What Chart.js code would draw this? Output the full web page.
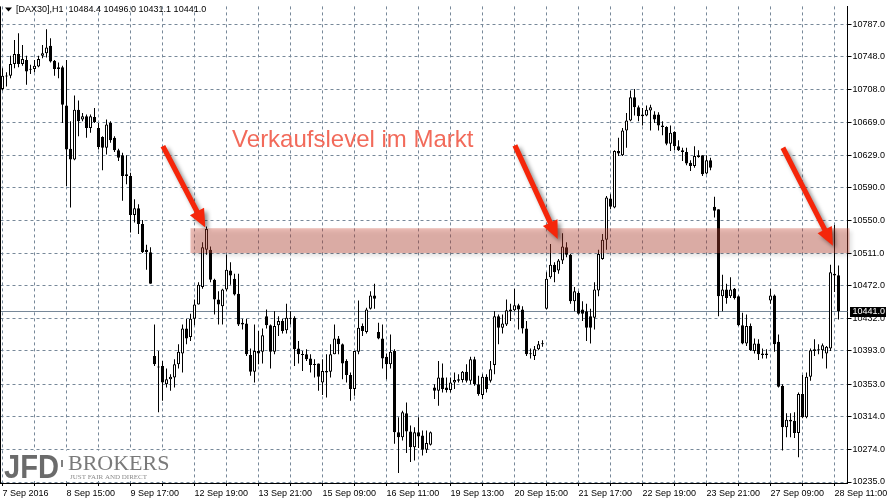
<!DOCTYPE html>
<html><head><meta charset="utf-8">
<script src="https://cdn.jsdelivr.net/npm/chart.js@4"></script>
<style>html,body{margin:0;padding:0;background:#fff;overflow:hidden}canvas{display:block}</style>
</head><body>
<canvas id="c" width="891" height="503"></canvas>
<script>
// ---- x tick labels (one every 16 hourly bars) ----
const xTickLabels = ['7 Sep 2016','8 Sep 15:00','9 Sep 17:00','12 Sep 19:00','13 Sep 21:00','15 Sep 09:00','16 Sep 11:00','19 Sep 13:00','20 Sep 15:00','21 Sep 17:00','22 Sep 19:00','23 Sep 21:00','27 Sep 09:00','28 Sep 11:00'];
// ---- y tick labels ----
const yTickValues = [10787,10748,10708,10669,10629,10590,10550,10511,10472,10432,10393,10353,10314,10274,10235];
const yMin = 10233.8, yMax = 10808.5;

// ---- DAX30 H1 OHLC ----
const open = [
10709,10724,10725,10739,10751,10739,10744,10732,10733,10736,
10749,10752,10761,10743,10733,10735,10689,10637,10624,10684,
10672,10676,10662,10675,10662,10651,10638,10668,10650,10635,
10629,10606,10604,10557,10565,10546,10515,10512,10387,10374,
10375,10353,10359,10361,10377,10390,10420,10410,10432,10449,
10470,10515,10515,10479,10455,10447,10467,10490,10480,10462,
10425,10426,10388,10368,10393,10392,10435,10424,10392,10424,
10429,10418,10433,10433,10396,10389,10389,10384,10377,10378,
10355,10369,10368,10389,10408,10401,10381,10364,10347,10392,
10423,10416,10444,10460,10416,10408,10386,10377,10393,10295,
10289,10318,10296,10277,10295,10291,10274,10280,10349,10345,
10361,10349,10346,10355,10359,10358,10368,10357,10383,10353,
10340,10362,10357,10376,10435,10421,10425,10441,10442,10448,
10443,10420,10390,10387,10395,10401,10444,10482,10497,10490,
10502,10518,10509,10453,10463,10443,10441,10435,10433,10466,
10504,10527,10577,10566,10634,10629,10659,10671,10699,10687,
10678,10677,10683,10678,10678,10665,10663,10643,10657,10640,
10635,10633,10620,10616,10629,10629,10607,10623,10567,10564,
10459,10467,10459,10468,10459,10424,10402,10423,10393,10402,
10390,10390,10454,10460,10404,10351,10301,10310,10309,10294,
10341,10313,10362,10393,10395,10394,10390,10396,10486,10484.4];
const high = [
10734,10729,10749,10768,10776,10762,10749,10738,10744,10749,
10762,10781,10770,10744,10741,10737,10744,10670,10701,10695,
10680,10678,10678,10686,10668,10652,10672,10670,10652,10637,
10632,10629,10608,10576,10570,10551,10521,10518,10425,10393,
10381,10372,10365,10383,10401,10425,10432,10438,10455,10476,
10524,10543,10519,10480,10465,10468,10509,10500,10486,10486,
10432,10432,10396,10425,10417,10420,10443,10425,10441,10435,
10432,10450,10441,10435,10405,10393,10395,10389,10383,10378,
10383,10389,10401,10425,10411,10402,10383,10367,10393,10454,
10426,10445,10465,10474,10427,10425,10390,10413,10395,10313,
10321,10331,10303,10301,10313,10297,10297,10296,10353,10381,
10378,10361,10361,10367,10365,10369,10377,10386,10386,10363,
10365,10365,10381,10441,10437,10437,10455,10450,10468,10450,
10447,10429,10396,10399,10405,10406,10488,10522,10500,10504,
10535,10524,10510,10470,10465,10453,10450,10444,10476,10515,
10534,10580,10582,10635,10650,10662,10680,10707,10709,10689,
10686,10689,10690,10682,10681,10670,10664,10665,10658,10647,
10638,10638,10623,10640,10635,10629,10629,10626,10579,10564,
10485,10474,10482,10469,10460,10439,10437,10426,10408,10407,
10396,10395,10468,10461,10413,10353,10318,10318,10319,10343,
10364,10367,10396,10407,10401,10402,10399,10497,10545,10496.0];
const low = [
10707,10712,10722,10734,10735,10737,10714,10727,10729,10735,
10746,10747,10741,10725,10722,10668,10592,10566,10623,10652,
10670,10650,10656,10668,10636,10611,10630,10644,10633,10622,
10574,10594,10536,10548,10534,10511,10491,10474,10375,10319,
10333,10349,10345,10349,10372,10367,10401,10405,10424,10449,
10468,10509,10476,10437,10425,10425,10465,10473,10460,10423,
10419,10387,10363,10355,10377,10378,10420,10372,10389,10411,
10414,10414,10425,10375,10378,10369,10381,10367,10361,10345,
10340,10337,10361,10389,10389,10359,10355,10333,10339,10389,
10411,10414,10443,10444,10407,10372,10359,10372,10281,10246,
10285,10270,10259,10261,10276,10267,10270,10279,10335,10327,
10343,10343,10343,10347,10355,10355,10355,10353,10351,10339,
10335,10343,10355,10365,10401,10414,10423,10429,10441,10419,
10414,10387,10384,10382,10394,10398,10443,10480,10476,10486,
10498,10506,10450,10441,10437,10429,10405,10402,10419,10459,
10503,10515,10564,10565,10628,10628,10638,10670,10677,10670,
10665,10676,10659,10668,10659,10653,10641,10634,10635,10634,
10622,10617,10610,10614,10626,10604,10606,10611,10554,10435,
10441,10450,10457,10455,10423,10401,10399,10393,10390,10382,
10384,10384,10450,10392,10349,10273,10289,10289,10288,10265,
10312,10312,10357,10387,10389,10384,10372,10393,10464,10431.1];
const close = [
10725,10725,10739,10751,10739,10745,10730,10733,10737,10745,
10752,10759,10742,10733,10735,10690,10636,10624,10684,10670,
10676,10662,10676,10669,10639,10638,10666,10647,10635,10626,
10604,10604,10557,10565,10546,10512,10512,10474,10377,10373,
10355,10359,10362,10377,10392,10420,10408,10432,10449,10473,
10518,10540,10479,10455,10449,10467,10491,10484,10461,10425,
10427,10389,10368,10393,10390,10412,10424,10392,10423,10429,
10417,10433,10432,10395,10389,10388,10383,10376,10376,10362,
10369,10367,10389,10408,10401,10378,10364,10347,10393,10421,
10417,10443,10460,10456,10408,10384,10377,10392,10295,10289,
10319,10296,10277,10295,10290,10274,10282,10295,10345,10361,
10347,10346,10355,10358,10357,10368,10357,10383,10353,10341,
10362,10347,10371,10435,10421,10426,10442,10443,10448,10443,
10420,10389,10389,10395,10401,10402,10480,10497,10488,10502,
10519,10509,10453,10465,10438,10438,10421,10421,10467,10510,
10527,10578,10567,10634,10631,10659,10671,10699,10687,10676,
10676,10684,10687,10672,10665,10663,10643,10656,10640,10635,
10633,10619,10616,10628,10627,10606,10623,10614,10562,10459,
10467,10457,10467,10457,10424,10402,10423,10394,10402,10389,
10388,10388,10460,10401,10350,10301,10310,10308,10294,10341,
10313,10362,10394,10395,10394,10400,10398,10488,10484,10441.0];

// ---- annotations (in bar-index / price units) ----
const titleText = '[DAX30],H1  10484.4 10496.0 10431.1 10441.0';
const bidPrice = 10441.0;
const band = {fromIndex: 47, low: 10511, high: 10541};
const arrows = [
  {x0: 40.1, y0: 10640, x1: 50.7, y1: 10542},
  {x0: 128.1, y0: 10641, x1: 138.8, y1: 10528},
  {x0: 195.1, y0: 10638, x1: 207.6, y1: 10520}
];
const annotationText = 'Verkaufslevel im Markt';
const annotationPos = {x: 57.4, y: 10647};

const idx = open.map((_, i) => i);
const wickData = idx.map(i => ({x: i, y: [low[i], high[i]]}));
const bodyData = idx.map(i => ({x: i, y: [Math.min(open[i], close[i]), Math.max(open[i], close[i])]}));
const bodyFill = idx.map(i => close[i] >= open[i] ? '#ffffff' : '#000000');

const FONT = '"Liberation Sans", Arial, sans-serif';
const GRID = '#778899';

const annot = {
  id: 'annot',
  beforeDatasetsDraw(chart) {
    const {ctx, chartArea: a, scales: {y}} = chart;
    const py = Math.round(y.getPixelForValue(bidPrice) - 0.5) + 0.5;
    ctx.save();
    ctx.strokeStyle = GRID; ctx.lineWidth = 1;
    ctx.beginPath(); ctx.moveTo(a.left, py); ctx.lineTo(a.right, py); ctx.stroke();
    ctx.restore();
  },
  afterDatasetsDraw(chart) {
    const {ctx, chartArea: a, scales: {x, y}} = chart;
    // band
    const bx = x.getPixelForValue(band.fromIndex);
    const by0 = y.getPixelForValue(band.high), by1 = y.getPixelForValue(band.low);
    ctx.save();
    ctx.shadowColor = 'rgba(0,0,0,0.3)'; ctx.shadowBlur = 4; ctx.shadowOffsetX = 2; ctx.shadowOffsetY = 3;
    ctx.fillStyle = 'rgba(200,70,50,0.36)';
    ctx.fillRect(bx, by0, a.right - bx + 2, by1 - by0);
    ctx.restore();
    // arrows
    arrows.forEach(ar => {
      const X0 = x.getPixelForValue(ar.x0), Y0 = y.getPixelForValue(ar.y0);
      const X1 = x.getPixelForValue(ar.x1), Y1 = y.getPixelForValue(ar.y1);
      const ang = Math.atan2(Y1 - Y0, X1 - X0);
      const len = Math.hypot(X1 - X0, Y1 - Y0);
      const hl = 18, hw = 8, sw = 2.6;
      ctx.save();
      ctx.translate(X0, Y0); ctx.rotate(ang);
      ctx.shadowColor = 'rgba(0,0,0,0.45)'; ctx.shadowBlur = 4; ctx.shadowOffsetX = 3; ctx.shadowOffsetY = 3;
      ctx.fillStyle = '#f5260a';
      ctx.beginPath();
      ctx.moveTo(0, -sw); ctx.lineTo(len - hl, -sw); ctx.lineTo(len - hl, -hw);
      ctx.lineTo(len, 0); ctx.lineTo(len - hl, hw); ctx.lineTo(len - hl, sw); ctx.lineTo(0, sw);
      ctx.closePath(); ctx.fill();
      ctx.restore();
    });
    // text
    ctx.save();
    ctx.font = '24px ' + FONT; ctx.fillStyle = '#f26a5a';
    ctx.textAlign = 'left'; ctx.textBaseline = 'middle';
    ctx.fillText(annotationText, x.getPixelForValue(annotationPos.x), y.getPixelForValue(annotationPos.y));
    ctx.restore();
  },
  afterDraw(chart) {
    const {ctx, chartArea: a, scales: {y}} = chart;
    ctx.save();
    // left border
    ctx.strokeStyle = '#000'; ctx.lineWidth = 1;
    ctx.beginPath(); ctx.moveTo(0.5, a.top); ctx.lineTo(0.5, a.bottom); ctx.stroke();
    // title
    ctx.fillStyle = '#000';
    ctx.beginPath(); ctx.moveTo(5, 7.5); ctx.lineTo(12, 7.5); ctx.lineTo(8.5, 11.5); ctx.closePath(); ctx.fill();
    ctx.font = '9px ' + FONT; ctx.textBaseline = 'middle'; ctx.textAlign = 'left';
    ctx.fillText(titleText, 16, 9.5);
    // price box
    const py = Math.round(y.getPixelForValue(bidPrice) - 0.5) + 0.5;
    ctx.fillStyle = '#000';
    ctx.fillRect(850, py - 4.5, 36, 10);
    ctx.fillStyle = '#fff';
    ctx.fillText(bidPrice.toFixed(1), 852.5, py + 0.5);
    // logo
    ctx.fillStyle = '#fff';
    ctx.fillRect(3, 451, 170, 30);
    ctx.fillStyle = '#6b6b6b';
    ctx.font = 'bold 34px ' + FONT; ctx.textBaseline = 'alphabetic';
    ctx.fillText('JFD', 4, 478, 55);
    ctx.fillStyle = '#808080';
    ctx.fillRect(61, 460, 2, 7);
    ctx.fillStyle = '#7a7a7a';
    ctx.font = '22px "Liberation Serif", "Times New Roman", serif';
    ctx.fillText('BROKERS', 68, 470, 103);
    ctx.fillStyle = '#8a8a8a';
    ctx.font = '7px "Liberation Serif", "Times New Roman", serif';
    ctx.fillText('JUST FAIR AND DIRECT', 70, 478.5, 100);
    ctx.restore();
  }
};

new Chart(document.getElementById('c'), {
  type: 'bar',
  data: {
    datasets: [
      {data: bodyData, backgroundColor: bodyFill, borderColor: '#000', borderWidth: 1,
       barThickness: 3, minBarLength: 1, grouped: false, order: 0, borderSkipped: false, inflateAmount: 0},
      {data: wickData, backgroundColor: '#000', borderWidth: 0,
       barThickness: 1, grouped: false, order: 1, inflateAmount: 0}
    ]
  },
  options: {
    responsive: false, animation: false, devicePixelRatio: 1,
    layout: {padding: {left: 0.5, top: 2, right: 0, bottom: 0}},
    plugins: {legend: {display: false}, tooltip: {enabled: false}},
    scales: {
      x: {
        type: 'linear', position: 'bottom', min: -0.5, max: 211.25, offset: false, bounds: 'data',
        grid: {color: GRID, lineWidth: 1, offset: false, drawTicks: true, tickLength: 3, tickColor: '#000'},
        border: {display: true, color: '#000', width: 1, dash: [3, 3]},
        afterBuildTicks: s => { const t = []; for (let v = 0; v < open.length; v += 8) t.push({value: v}); s.ticks = t; },
        afterFit: s => { s.height = 20; },
        ticks: {autoSkip: false, maxRotation: 0, minRotation: 0, align: 'start', padding: 2, color: '#000',
          font: {family: FONT, size: 9},
          callback: v => (v % 16 === 0 ? xTickLabels[v / 16] : '')}
      },
      y: {
        type: 'linear', position: 'right', min: yMin, max: yMax, bounds: 'data',
        grid: {color: GRID, lineWidth: 1, drawTicks: true, tickLength: 4, tickColor: '#000'},
        border: {display: true, color: '#000', width: 1, dash: [3, 3]},
        afterBuildTicks: s => { s.ticks = yTickValues.map(v => ({value: v})); },
        afterFit: s => { s.width = 43.5; },
        ticks: {autoSkip: false, padding: 1, color: '#000', font: {family: FONT, size: 9},
          callback: v => v.toFixed(1)}
      }
    }
  },
  plugins: [annot]
});
</script>
</body></html>
